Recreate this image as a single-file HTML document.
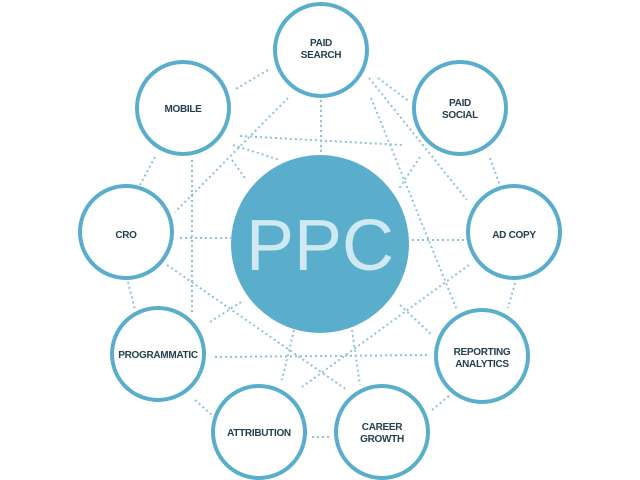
<!DOCTYPE html>
<html><head><meta charset="utf-8"><style>
html,body{margin:0;padding:0;background:#fff;}
svg{display:block}
text{font-family:"Liberation Sans",sans-serif;font-weight:bold;fill:#24404f;text-anchor:middle;font-size:10px;letter-spacing:-0.3px}
</style></head><body>
<svg width="640" height="480" viewBox="0 0 640 480" xmlns="http://www.w3.org/2000/svg">
<g stroke="#8ec2d5" stroke-width="2" stroke-dasharray="2 3" fill="none">
<line x1="240" y1="136" x2="402" y2="145"/>
<line x1="268" y1="70" x2="234" y2="90"/>
<line x1="378" y1="78" x2="410" y2="102"/>
<line x1="321" y1="100" x2="321" y2="155"/>
<line x1="288" y1="98" x2="175" y2="212"/>
<line x1="369" y1="78" x2="467" y2="200"/>
<line x1="371" y1="98" x2="457" y2="310"/>
<line x1="192" y1="160" x2="192" y2="312"/>
<line x1="233" y1="145" x2="280" y2="160"/>
<line x1="232" y1="160" x2="245" y2="178"/>
<line x1="155" y1="157" x2="140" y2="185"/>
<line x1="180" y1="238" x2="231" y2="238"/>
<line x1="128" y1="282" x2="135" y2="310"/>
<line x1="412" y1="240" x2="465" y2="240"/>
<line x1="490" y1="158" x2="500" y2="186"/>
<line x1="420" y1="157" x2="398" y2="190"/>
<line x1="469" y1="265" x2="302" y2="387"/>
<line x1="167" y1="265" x2="347" y2="390"/>
<line x1="215" y1="357" x2="430" y2="355"/>
<line x1="210" y1="322" x2="241" y2="302"/>
<line x1="195" y1="400" x2="212" y2="415"/>
<line x1="312" y1="437" x2="330" y2="437"/>
<line x1="432" y1="410" x2="450" y2="395"/>
<line x1="294" y1="330" x2="282" y2="380"/>
<line x1="352" y1="330" x2="360" y2="385"/>
<line x1="400" y1="305" x2="432" y2="335"/>
<line x1="515" y1="283" x2="508" y2="308"/>
</g>
<g stroke="#5aaecb" stroke-width="4" fill="#fff">
<circle cx="321" cy="50" r="46"/>
<circle cx="183" cy="108" r="46"/>
<circle cx="460" cy="108" r="46"/>
<circle cx="126" cy="232" r="46"/>
<circle cx="514" cy="232" r="46"/>
<circle cx="158" cy="354" r="46"/>
<circle cx="482" cy="356" r="46"/>
<circle cx="259" cy="432" r="46"/>
<circle cx="382" cy="432" r="46"/>
</g>
<circle cx="320" cy="244" r="89" fill="#5aaecb"/>
<text x="320" y="270" style="font-size:72px;font-weight:normal;fill:#cfe9f2;letter-spacing:0">PPC</text>
<text x="321" y="46">PAID</text><text x="321" y="58">SEARCH</text>
<text x="183" y="112">MOBILE</text>
<text x="460" y="106">PAID</text><text x="460" y="118">SOCIAL</text>
<text x="126" y="238">CRO</text>
<text x="514" y="238">AD COPY</text>
<text x="158" y="358">PROGRAMMATIC</text>
<text x="482" y="355">REPORTING</text><text x="482" y="367">ANALYTICS</text>
<text x="259" y="436">ATTRIBUTION</text>
<text x="382" y="430">CAREER</text><text x="382" y="442">GROWTH</text>
</svg>
</body></html>
